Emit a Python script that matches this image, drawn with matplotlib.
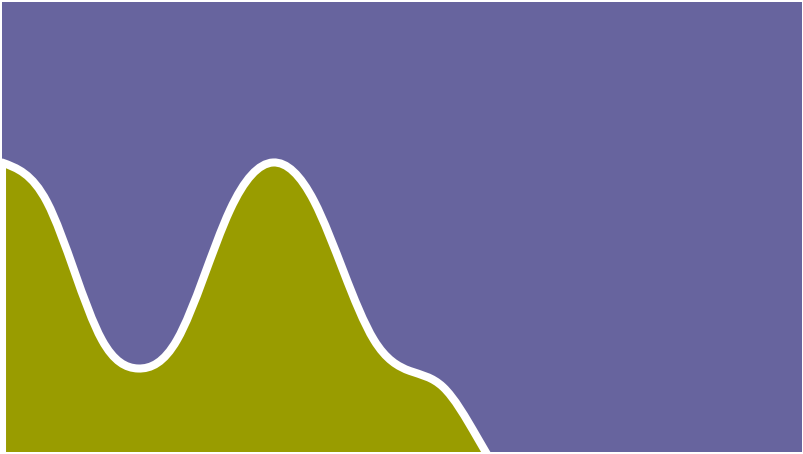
import numpy as np
import matplotlib
matplotlib.use("Agg")
import matplotlib.pyplot as plt
from matplotlib.path import Path
from matplotlib.patches import PathPatch

# boundary between the two areas
xs = [0, 45, 100, 136, 175, 228, 271, 312, 372, 408, 441, 475, 520]
lower = [289.5, 250, 112, 83.5, 112, 242, 289.5, 251, 112, 81, 65, 15, -62]

x_max = 800
y_max = 450

purple = "#67649e"
olive = "#999c00"


def natural_slopes(x, y): # natural cubic spline, written as slopes at the knots
    x = np.asarray(x, float)
    y = np.asarray(y, float)
    n = len(x)
    h = np.diff(x)
    s = np.diff(y) / h
    A = np.zeros((n, n))
    b = np.zeros(n)
    A[0, 0], A[0, 1], b[0] = 2, 1, 3*s[0]
    A[-1, -2], A[-1, -1], b[-1] = 1, 2, 3*s[-1]
    for i in range(1, n - 1):
        A[i, i-1] = 1/h[i-1]
        A[i, i] = 2*(1/h[i-1] + 1/h[i])
        A[i, i+1] = 1/h[i]
        b[i] = 3*(s[i-1]/h[i-1] + s[i]/h[i])
    return np.linalg.solve(A, b)


def area_path(x, y, base):
    m = natural_slopes(x, y)
    verts = [(x[0], base), (x[0], y[0])]
    codes = [Path.MOVETO, Path.LINETO]
    for i in range(len(x) - 1):
        h = x[i+1] - x[i]
        verts += [(x[i] + h/3, y[i] + m[i]*h/3),
                  (x[i+1] - h/3, y[i+1] - m[i+1]*h/3),
                  (x[i+1], y[i+1])]
        codes += [Path.CURVE4]*3
    verts += [(x[-1], base), (x[0], base)]
    codes += [Path.LINETO, Path.CLOSEPOLY]
    return Path(verts, codes)


fig = plt.figure(figsize=(8.04, 4.54), dpi=100)
ax = fig.add_axes([2/804, 2/454, 800/804, 450/454])
ax.set_facecolor(purple)
ax.set_xlim(0, x_max)
ax.set_ylim(0, y_max)
ax.set_xticks([])
ax.set_yticks([])
for sp in ax.spines.values():
    sp.set_visible(False)

patch = PathPatch(area_path(xs, lower, -150), facecolor=olive, edgecolor="white",
                  linewidth=5.8, joinstyle="round")
ax.add_patch(patch)

fig.savefig("out.png", dpi=100, facecolor="white")
